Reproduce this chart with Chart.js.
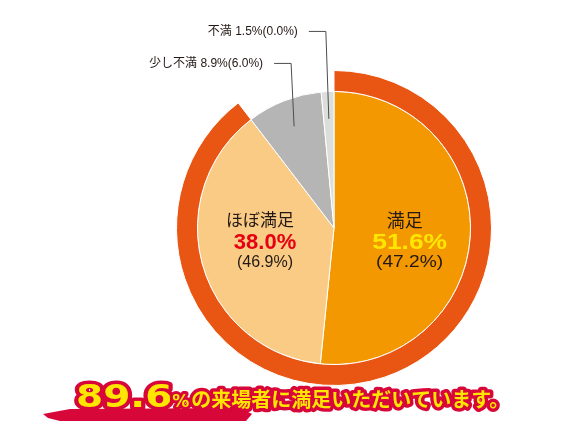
<!DOCTYPE html>
<html lang="ja">
<head>
<meta charset="utf-8">
<script src="https://cdn.jsdelivr.net/npm/chart.js@4.4.1/dist/chart.umd.min.js"></script>
<style>
  html, body { margin: 0; padding: 0; background: #fff; }
  #wrap { width: 561px; height: 443px; position: relative; }
</style>
</head>
<body>
<div id="wrap"><canvas id="satisfaction"></canvas></div>
<script>
// 満足度（カッコ内は前回）
const categories = ['満足', 'ほぼ満足', '少し不満', '不満'];
const thisYear = [51.6, 38.0, 8.9, 1.5];
const lastYear = [47.2, 46.9, 6.0, 0.0];

const sliceColors = ['#F39800', '#F9CB84', '#B5B5B6', '#DCDDDD'];
const ringColor = '#E95513';
const pctColors = ['#FFE600', '#E60012'];
const labelStretch = [1.2, 1];

// 外側のリング = 満足 + ほぼ満足
const satisfied = +(thisYear[0] + thisYear[1]).toFixed(1);
const ringValues = [satisfied, +(100 - satisfied).toFixed(1)];

const jpFont = '"Noto Sans CJK JP", sans-serif';
const numFont = '"Liberation Sans", "Noto Sans CJK JP", sans-serif';

function fmt(v) {
    return v.toFixed(1) + '%';
}

function stretchText(ctx, text, x, y, sx) {
    ctx.save();
    ctx.translate(x, y);
    ctx.scale(sx, 1);
    ctx.fillText(text, 0, 0);
    ctx.restore();
}

const pieLabels = {
    id: 'pieLabels',
    afterDatasetsDraw(chart) {
        const ctx = chart.ctx;
        const arcs = chart.getDatasetMeta(1).data;
        ctx.save();
        ctx.textAlign = 'center';
        ctx.textBaseline = 'middle';

        // 大きいスライスはスライス内に表示
        [0, 1].forEach(i => {
            const a = arcs[i];
            const mid = (a.startAngle + a.endAngle) / 2;
            const x = a.x + Math.cos(mid) * a.outerRadius * 0.54;
            const cy = a.y;
            ctx.fillStyle = '#231815';
            ctx.font = (i === 0 ? '18px ' : '17px ') + jpFont;
            ctx.fillText(categories[i], x - 3, cy - 8);
            ctx.fillStyle = pctColors[i];
            ctx.font = 'bold 22px ' + numFont;
            stretchText(ctx, fmt(thisYear[i]), x + 2, cy + 15, labelStretch[i]);
            ctx.fillStyle = '#231815';
            ctx.font = '16px ' + numFont;
            stretchText(ctx, '(' + fmt(lastYear[i]) + ')', x + 2, cy + 35, labelStretch[i]);
        });

        // 小さいスライスは引き出し線
        const rise = { 2: 28, 3: 60 };
        [2, 3].forEach(i => {
            const a = arcs[i];
            const mid = (a.startAngle + a.endAngle) / 2;
            const px = a.x + Math.cos(mid) * a.outerRadius * 0.8;
            const py = a.y + Math.sin(mid) * a.outerRadius * 0.8;
            const ly = a.y - a.outerRadius - rise[i];
            const ex = px - 3;
            ctx.strokeStyle = '#4D4D4D';
            ctx.lineWidth = 1;
            ctx.beginPath();
            ctx.moveTo(ex - 17, ly);
            ctx.lineTo(ex, ly);
            ctx.lineTo(px, py);
            ctx.stroke();
            ctx.fillStyle = '#231815';
            ctx.font = '12px ' + numFont;
            ctx.textAlign = 'right';
            ctx.fillText(categories[i] + ' ' + fmt(thisYear[i]) + '(' + fmt(lastYear[i]) + ')', ex - 28, ly);
        });
        ctx.restore();
    }
};

const headline = {
    id: 'headline',
    afterDraw(chart) {
        const ctx = chart.ctx;
        const baseY = 407;
        const red = '#D7073A';
        ctx.save();

        // 筆で塗ったような赤い帯
        ctx.fillStyle = red;
        ctx.beginPath();
        ctx.moveTo(43, 414);
        ctx.lineTo(70, 409);
        ctx.lineTo(240, 408);
        ctx.lineTo(252, 414);
        ctx.lineTo(246, 421);
        ctx.lineTo(60, 421);
        ctx.lineTo(48, 418);
        ctx.closePath();
        ctx.fill();

        ctx.textBaseline = 'alphabetic';
        ctx.textAlign = 'left';
        ctx.lineJoin = 'round';
        ctx.strokeStyle = red;
        ctx.fillStyle = '#FFE600';

        // 大きい数字は横長に
        const big = String(satisfied);
        ctx.font = 'bold 32px "DejaVu Sans", sans-serif';
        const sx = 1.22;
        const bigW = ctx.measureText(big).width * sx;
        ctx.save();
        ctx.translate(76, baseY);
        ctx.scale(sx, 1);
        ctx.lineWidth = 7;
        ctx.strokeText(big, 0, 0);
        ctx.fillText(big, 0, 0);
        ctx.restore();

        let x = 76 + bigW;
        ctx.font = 'bold 17px "DejaVu Sans", sans-serif';
        ctx.lineWidth = 6;
        ctx.strokeText('%', x, baseY);
        ctx.fillText('%', x, baseY);
        x += ctx.measureText('%').width + 2;

        const rest = 'の来場者に満足いただいています。';
        ctx.font = 'bold 20px ' + jpFont;
        ctx.lineWidth = 7;
        ctx.strokeText(rest, x, baseY);
        ctx.fillText(rest, x, baseY);
        ctx.restore();
    }
};

document.addEventListener('DOMContentLoaded', function () {
    const canvas = document.getElementById('satisfaction');

    new Chart(canvas.getContext('2d'), {
        type: 'doughnut',
        data: {
            labels: categories,
            datasets: [
                {
                    label: '満足計',
                    data: ringValues,
                    backgroundColor: [ringColor, 'rgba(0,0,0,0)'],
                    borderColor: ['#FFFFFF', 'rgba(0,0,0,0)'],
                    borderWidth: 1,
                    weight: 21
                },
                {
                    label: '今回',
                    data: thisYear,
                    backgroundColor: sliceColors,
                    borderColor: '#FFFFFF',
                    borderWidth: 1,
                    weight: 137
                }
            ]
        },
        options: {
            responsive: true,
            maintainAspectRatio: false,
            animation: false,
            cutout: 0,
            layout: {
                padding: { left: 176, right: 69, top: 70, bottom: 57 }
            },
            plugins: {
                legend: { display: false },
                tooltip: { enabled: false }
            }
        },
        plugins: [pieLabels, headline]
    });
});
</script>
</body>
</html>
